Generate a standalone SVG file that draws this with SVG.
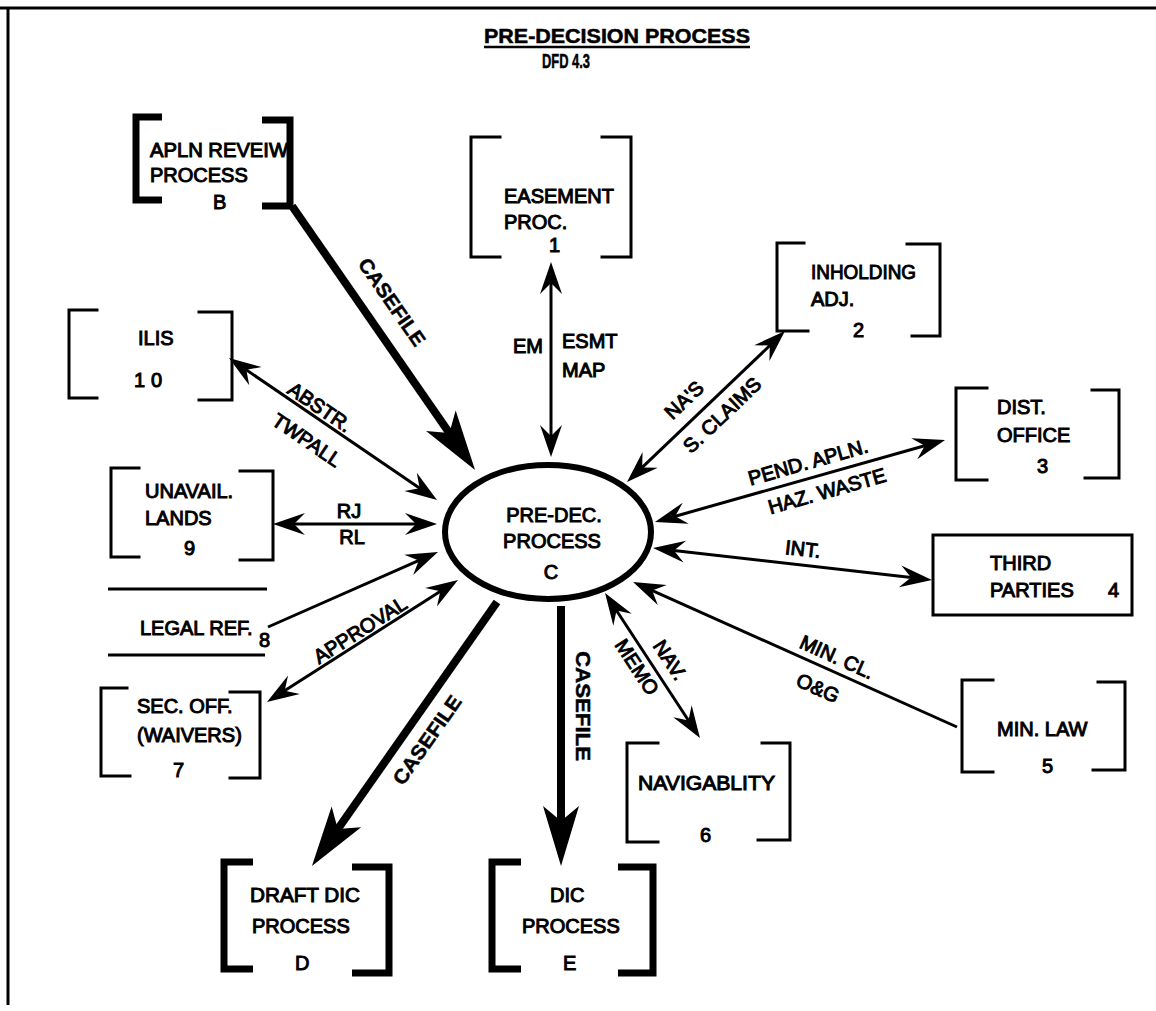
<svg xmlns="http://www.w3.org/2000/svg" width="1156" height="1011" viewBox="0 0 1156 1011">
  <style>
    .t { font-family: "Liberation Sans", Arial, Helvetica, sans-serif; font-size: 20px; fill: #000; stroke: #000; stroke-width: 1; }
    .lbl { text-anchor: middle; }
    .bold { font-weight: bold; stroke-width: 0.5; }
    .br { fill: none; stroke: #000; stroke-width: 3; stroke-linejoin: miter; stroke-linecap: square; }
    .brk { fill: none; stroke: #000; stroke-width: 7; stroke-linejoin: miter; stroke-linecap: butt; }
    .ln { fill: none; stroke: #000; stroke-width: 3; }
    .thk { fill: none; stroke: #000; stroke-width: 8; }
    .frame { fill: none; stroke: #000; stroke-width: 3; }
  </style>
  <defs>
    <!-- thin flow arrowhead, tip at the path end + 12 -->
    <marker id="ah" viewBox="-34 -13 36 26" refX="-12" refY="0" markerWidth="36" markerHeight="26" markerUnits="userSpaceOnUse" orient="auto-start-reverse">
      <path d="M0,0 L-32,-11 L-21,0 L-32,11 Z" fill="#000"/>
    </marker>
    <!-- heavy casefile arrowhead -->
    <marker id="AH" viewBox="-62 -20 64 40" refX="-25" refY="0" markerWidth="64" markerHeight="40" markerUnits="userSpaceOnUse" orient="auto">
      <path d="M0,0 L-60,-18 L-45,0 L-60,18 Z" fill="#000"/>
    </marker>
  </defs>

  <rect width="1156" height="1011" fill="#fff"/>

  <!-- page frame -->
  <path class="frame" d="M0,8 H1156 M8,8 V1005"/>

  <!-- heading -->
  <g id="title">
    <text x="484" y="43" class="t bold" font-size="30" textLength="266" lengthAdjust="spacingAndGlyphs">PRE-DECISION PROCESS</text>
    <line x1="484" y1="47" x2="750" y2="47" stroke="#000" stroke-width="2.5"/>
    <text x="542" y="68" class="t bold" font-size="16" stroke-width="0.3" textLength="48" lengthAdjust="spacingAndGlyphs">DFD 4.3</text>
  </g>

  <!-- connectors -->
  <g id="connectors">
    <path class="thk" d="M292,206 L460.8,449.5" marker-end="url(#AH)"/>
    <path class="ln" d="M551,274 L551,445" marker-start="url(#ah)" marker-end="url(#ah)"/>
    <path class="ln" d="M635.7,473.7 L776.3,339.3" marker-start="url(#ah)" marker-end="url(#ah)"/>
    <path class="ln" d="M666.5,518.7 L933.5,443.3" marker-start="url(#ah)" marker-end="url(#ah)"/>
    <path class="ln" d="M665,549.4 L920,578.6" marker-start="url(#ah)" marker-end="url(#ah)"/>
    <path class="ln" d="M957,727 L644,586.9" marker-end="url(#ah)"/>
    <path class="ln" d="M611.6,603 L693.4,728" marker-start="url(#ah)" marker-end="url(#ah)"/>
    <path class="thk" d="M561,606 L561,841" marker-end="url(#AH)"/>
    <path class="thk" d="M497,602 L326.3,845.5" marker-end="url(#AH)"/>
    <path class="ln" d="M277.1,695.5 L447.9,586.5" marker-start="url(#ah)" marker-end="url(#ah)"/>
    <path class="ln" d="M268,627 L427,556.8" marker-end="url(#ah)"/>
    <path class="ln" d="M285,524 L425,524" marker-start="url(#ah)" marker-end="url(#ah)"/>
    <path class="ln" d="M238.9,364.8 L427.1,493.2" marker-start="url(#ah)" marker-end="url(#ah)"/>

    <!-- flow labels -->
    <text class="t bold lbl" transform="translate(392,302) rotate(55.3)" y="7" textLength="102" lengthAdjust="spacingAndGlyphs">CASEFILE</text>
    <text class="t" x="513" y="353">EM</text>
    <text class="t" x="562" y="348">ESMT</text>
    <text class="t" x="562" y="377">MAP</text>
    <text class="t lbl" transform="translate(684,400) rotate(-43.7)" y="7">NA'S</text>
    <text class="t lbl" transform="translate(722,415) rotate(-43.7)" y="7">S. CLAIMS</text>
    <text class="t lbl" transform="translate(808,462) rotate(-15.8)" y="7">PEND. APLN.</text>
    <text class="t lbl" transform="translate(827,491) rotate(-15.8)" y="7">HAZ. WASTE</text>
    <text class="t lbl" transform="translate(803,549) rotate(6.5)" y="7">INT.</text>
    <text class="t lbl" transform="translate(837,657) rotate(24.1)" y="7">MIN. CL.</text>
    <text class="t lbl" transform="translate(818,688) rotate(24.1)" y="7">O&amp;G</text>
    <text class="t lbl" transform="translate(670,660) rotate(56.8)" y="7">NAV.</text>
    <text class="t lbl" transform="translate(637,667) rotate(56.8)" y="7">MEMO</text>
    <text class="t bold lbl" transform="translate(583,706) rotate(90)" y="7" textLength="110" lengthAdjust="spacingAndGlyphs">CASEFILE</text>
    <text class="t bold lbl" transform="translate(427,740) rotate(-55)" y="7" textLength="104" lengthAdjust="spacingAndGlyphs">CASEFILE</text>
    <text class="t lbl" transform="translate(360,630) rotate(-32.6)" y="7">APPROVAL</text>
    <text class="t lbl" x="349" y="518">RJ</text>
    <text class="t lbl" x="352" y="544">RL</text>
    <text class="t lbl" transform="translate(320,407) rotate(34.3)" y="7">ABSTR.</text>
    <text class="t lbl" transform="translate(307,440) rotate(34.3)" y="7">TWPALL</text>
  </g>

  <!-- central process -->
  <g id="node-C">
    <ellipse cx="548" cy="532" rx="103" ry="67" fill="none" stroke="#000" stroke-width="6"/>
    <text class="t lbl" x="554" y="522">PRE-DEC.</text>
    <text class="t lbl" x="552" y="548">PROCESS</text>
    <text class="t lbl" x="551" y="579">C</text>
  </g>

  <g id="node-B">
    <path class="brk" d="M162,117 H136 V200 H162"/>
    <path class="brk" d="M262,120 H290 V206 H262"/>
    <text class="t" x="150" y="157" textLength="138" lengthAdjust="spacingAndGlyphs">APLN REVEIW</text>
    <text class="t" x="150" y="182">PROCESS</text>
    <text class="t" x="213" y="209">B</text>
  </g>

  <g id="node-1">
    <path class="br" d="M500,137 H471 V257 H500"/>
    <path class="br" d="M602,137 H631 V257 H602"/>
    <text class="t" x="504" y="203">EASEMENT</text>
    <text class="t" x="504" y="229">PROC.</text>
    <text class="t" x="549" y="252" font-size="18">1</text>
  </g>

  <g id="node-2">
    <path class="br" d="M804,243 H777 V331 H808"/>
    <path class="br" d="M907,244 H940 V336 H912"/>
    <text class="t" x="811" y="279" textLength="105" lengthAdjust="spacingAndGlyphs">INHOLDING</text>
    <text class="t" x="811" y="306">ADJ.</text>
    <text class="t" x="853" y="337">2</text>
  </g>

  <g id="node-3">
    <path class="br" d="M987,388 H956 V480 H987"/>
    <path class="br" d="M1092,390 H1119 V478 H1085"/>
    <text class="t" x="997" y="414">DIST.</text>
    <text class="t" x="997" y="442">OFFICE</text>
    <text class="t" x="1037" y="473">3</text>
  </g>

  <g id="node-4">
    <rect x="933" y="535" width="199" height="80" fill="none" stroke="#000" stroke-width="3"/>
    <text class="t" x="990" y="570">THIRD</text>
    <text class="t" x="990" y="597">PARTIES</text>
    <text class="t" x="1108" y="597">4</text>
  </g>

  <g id="node-5">
    <path class="br" d="M993,680 H962 V772 H993"/>
    <path class="br" d="M1098,682 H1125 V770 H1093"/>
    <text class="t" x="997" y="736">MIN. LAW</text>
    <text class="t" x="1042" y="773">5</text>
  </g>

  <g id="node-6">
    <path class="br" d="M658,743 H627 V842 H658"/>
    <path class="br" d="M762,743 H790 V840 H758"/>
    <text class="t" x="638" y="790" textLength="137" lengthAdjust="spacingAndGlyphs">NAVIGABLITY</text>
    <text class="t" x="700" y="842">6</text>
  </g>

  <g id="node-7">
    <path class="br" d="M127,688 H101 V776 H130"/>
    <path class="br" d="M230,692 H260 V778 H230"/>
    <text class="t" x="137" y="713">SEC. OFF.</text>
    <text class="t" x="137" y="742">(WAIVERS)</text>
    <text class="t" x="173" y="777">7</text>
  </g>

  <g id="node-8">
    <path class="ln" d="M108,589 H267 M108,655 H265"/>
    <text class="t" x="140" y="635">LEGAL REF.</text>
    <text class="t" x="259" y="647">8</text>
  </g>

  <g id="node-9">
    <path class="br" d="M139,468 H111 V557 H139"/>
    <path class="br" d="M240,471 H273 V560 H240"/>
    <text class="t" x="145" y="498">UNAVAIL.</text>
    <text class="t" x="145" y="525">LANDS</text>
    <text class="t" x="184" y="555">9</text>
  </g>

  <g id="node-10">
    <path class="br" d="M97,310 H69 V398 H97"/>
    <path class="br" d="M199,312 H232 V400 H199"/>
    <text class="t" x="138" y="345">ILIS</text>
    <text class="t" x="134" y="387" letter-spacing="6">10</text>
  </g>

  <g id="node-D">
    <path class="brk" d="M253,862 H224 V969 H253"/>
    <path class="brk" d="M352,867 H389 V973 H352"/>
    <text class="t" x="250" y="902" textLength="110" lengthAdjust="spacingAndGlyphs">DRAFT DIC</text>
    <text class="t" x="252" y="933">PROCESS</text>
    <text class="t" x="295" y="970">D</text>
  </g>

  <g id="node-E">
    <path class="brk" d="M521,862 H492 V969 H521"/>
    <path class="brk" d="M618,867 H653 V973 H618"/>
    <text class="t" x="550" y="902">DIC</text>
    <text class="t" x="522" y="933">PROCESS</text>
    <text class="t" x="563" y="970">E</text>
  </g>
</svg>
